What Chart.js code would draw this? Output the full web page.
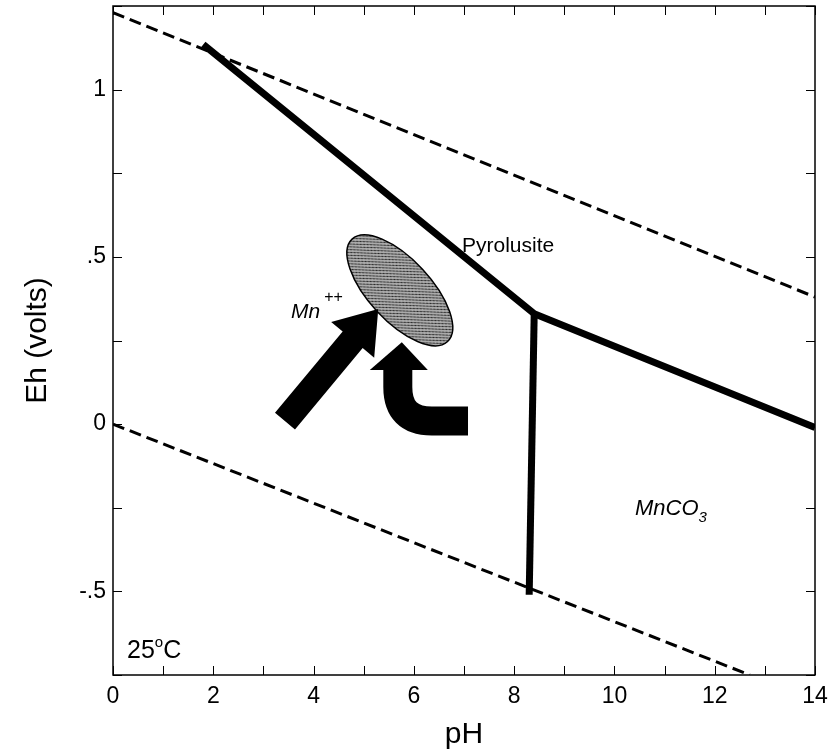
<!DOCTYPE html>
<html>
<head>
<meta charset="utf-8">
<script src="https://cdn.jsdelivr.net/npm/chart.js@4.4.1/dist/chart.umd.min.js"></script>
<style>
  html, body { margin: 0; padding: 0; background: #fff; }
  #wrap { width: 835px; height: 753px; }
</style>
</head>
<body>
<div id="wrap"><canvas id="ehPh" width="835" height="753"></canvas></div>
<script>
// --- Eh-pH diagram for manganese, 25 C ---

// water stability limits (dashed)
const upperWaterPH = [0, 14];
const upperWaterEh = [1.23, 0.38];
const lowerWaterPH = [0, 12.7];
const lowerWaterEh = [0, -0.75];

// Mn++ / pyrolusite / MnCO3 boundaries (thick solid)
const pyrolusitePH = [1.8, 8.4, 14];
const pyrolusiteEh = [1.135, 0.33, -0.01];
const carbonatePH = [8.4, 8.3];
const carbonateEh = [0.33, -0.51];

// axis ticks
const xTickLabels = [0, 2, 4, 6, 8, 10, 12, 14];
const yTickValues = [1, 0.5, 0, -0.5];
const yTickLabels = ['1', '.5', '0', '-.5'];

const FONT = "'Liberation Sans', Arial, sans-serif";

const toPoints = (xs, ys) => xs.map((x, i) => ({ x, y: ys[i] }));

function makeHatch() {
  const c = document.createElement('canvas');
  c.width = 4; c.height = 4;
  const g = c.getContext('2d');
  g.fillStyle = '#aaa';
  g.fillRect(0, 0, 4, 4);
  g.fillStyle = '#222';
  g.fillRect(0, 0, 1, 1);
  g.fillRect(2, 2, 1, 1);
  g.fillRect(1, 3, 1, 1);
  g.fillRect(3, 1, 1, 1);
  return c;
}

function drawArrow(ctx, x0, y0, x1, y1, shaftW, headW, headL) {
  const dx = x1 - x0, dy = y1 - y0;
  const len = Math.hypot(dx, dy);
  const ux = dx / len, uy = dy / len;
  const nx = -uy, ny = ux;
  const bx = x1 - ux * headL, by = y1 - uy * headL;
  ctx.beginPath();
  ctx.moveTo(x0 + nx * shaftW / 2, y0 + ny * shaftW / 2);
  ctx.lineTo(bx + nx * shaftW / 2, by + ny * shaftW / 2);
  ctx.lineTo(bx + nx * headW / 2, by + ny * headW / 2);
  ctx.lineTo(x1, y1);
  ctx.lineTo(bx - nx * headW / 2, by - ny * headW / 2);
  ctx.lineTo(bx - nx * shaftW / 2, by - ny * shaftW / 2);
  ctx.lineTo(x0 - nx * shaftW / 2, y0 - ny * shaftW / 2);
  ctx.closePath();
  ctx.fill();
}

const decorations = {
  id: 'decorations',
  afterDatasetsDraw(chart) {
    const { ctx, chartArea: a, scales: { x, y } } = chart;
    const px = v => x.getPixelForValue(v);
    const py = v => y.getPixelForValue(v);

    ctx.save();
    // frame + inward ticks on all four sides
    ctx.strokeStyle = '#000';
    ctx.lineWidth = 1.5;
    ctx.strokeRect(a.left, a.top, a.right - a.left, a.bottom - a.top);
    ctx.lineWidth = 1;
    const tl = 9;
    ctx.beginPath();
    x.ticks.forEach(t => {
      const p = Math.round(px(t.value)) + 0.5;
      ctx.moveTo(p, a.bottom); ctx.lineTo(p, a.bottom - tl);
      ctx.moveTo(p, a.top); ctx.lineTo(p, a.top + tl);
    });
    y.ticks.forEach(t => {
      const p = Math.round(py(t.value)) + 0.5;
      ctx.moveTo(a.left, p); ctx.lineTo(a.left + tl, p);
      ctx.moveTo(a.right, p); ctx.lineTo(a.right - tl, p);
    });
    ctx.stroke();

    // shaded Mn++ ellipse
    const hatch = ctx.createPattern(makeHatch(), 'repeat');
    ctx.save();
    ctx.translate(px(5.72), py(0.40));
    ctx.rotate(47 * Math.PI / 180);
    ctx.beginPath();
    ctx.ellipse(0, 0, 70, 31, 0, 0, Math.PI * 2);
    ctx.fillStyle = hatch;
    ctx.fill();
    ctx.lineWidth = 1.5;
    ctx.strokeStyle = '#000';
    ctx.stroke();
    ctx.restore();

    // straight arrow
    ctx.fillStyle = '#000';
    drawArrow(ctx, px(3.43), py(0.009), px(5.29), py(0.344), 26, 56, 40);

    // bent arrow
    const sx = px(5.68), sy = py(0.168);
    const cx = px(5.68), cy = py(0.009);
    const ex = px(7.08);
    const r = 34;
    ctx.beginPath();
    ctx.moveTo(sx, sy + 1);
    ctx.lineTo(cx, cy - r);
    ctx.quadraticCurveTo(cx, cy, cx + r, cy);
    ctx.lineTo(ex, cy);
    ctx.lineWidth = 29;
    ctx.lineCap = 'butt';
    ctx.lineJoin = 'round';
    ctx.stroke();
    ctx.beginPath();
    ctx.moveTo(sx - 28, sy + 2);
    ctx.lineTo(px(5.76), py(0.245));
    ctx.lineTo(sx + 30, sy + 2);
    ctx.closePath();
    ctx.fill();

    // labels
    ctx.fillStyle = '#000';
    ctx.textBaseline = 'alphabetic';
    ctx.textAlign = 'left';

    ctx.font = `21px ${FONT}`;
    ctx.fillText('Pyrolusite', px(6.96), py(0.515));

    ctx.font = `italic 21px ${FONT}`;
    ctx.fillText('Mn', px(3.55), py(0.317));
    const mw = ctx.measureText('Mn').width;
    ctx.font = `16px ${FONT}`;
    ctx.fillText('++', px(3.55) + mw + 4, py(0.365));

    ctx.font = `italic 22px ${FONT}`;
    ctx.fillText('MnCO', px(10.41), py(-0.272));
    const w = ctx.measureText('MnCO').width;
    ctx.font = `italic 15px ${FONT}`;
    ctx.fillText('3', px(10.41) + w, py(-0.272) + 7);

    ctx.font = `25px ${FONT}`;
    let tx = px(0.28);
    const ty = py(-0.70);
    ctx.fillText('25', tx, ty);
    tx += ctx.measureText('25').width;
    ctx.font = `15px ${FONT}`;
    ctx.fillText('o', tx, ty - 11);
    tx += ctx.measureText('o').width;
    ctx.font = `25px ${FONT}`;
    ctx.fillText('C', tx, ty);
    ctx.restore();
  }
};

const ctx = document.getElementById('ehPh').getContext('2d');

const dashed = { borderColor: '#000', borderWidth: 3, borderDash: [12, 6], pointRadius: 0, showLine: true, fill: false };
const solid = { borderColor: '#000', borderWidth: 7, pointRadius: 0, showLine: true, fill: false, borderJoinStyle: 'miter', borderCapStyle: 'butt' };

const ehChart = new Chart(ctx, {
  type: 'scatter',
  data: {
    datasets: [
      { ...dashed, label: 'O2/H2O', data: toPoints(upperWaterPH, upperWaterEh) },
      { ...dashed, label: 'H2O/H2', data: toPoints(lowerWaterPH, lowerWaterEh) },
      { ...solid, label: 'Pyrolusite', data: toPoints(pyrolusitePH, pyrolusiteEh) },
      { ...solid, label: 'MnCO3', data: toPoints(carbonatePH, carbonateEh) }
    ]
  },
  options: {
    responsive: false,
    animation: false,
    layout: { padding: { left: 0, right: 20, top: 6, bottom: 0 } },
    plugins: { legend: { display: false }, tooltip: { enabled: false } },
    scales: {
      x: {
        type: 'linear',
        min: 0,
        max: 14,
        grid: { display: false, drawTicks: false },
        border: { display: false },
        ticks: {
          stepSize: 1,
          autoSkip: false,
          maxRotation: 0,
          padding: 8,
          color: '#000',
          font: { family: FONT, size: 23 },
          callback: v => xTickLabels.includes(v) ? String(v) : ''
        },
        title: {
          display: true,
          text: 'pH',
          color: '#000',
          font: { family: FONT, size: 30 },
          padding: { top: 0, bottom: 0 }
        },
        afterFit: s => { s.height = 78; s.paddingLeft = 0; s.paddingRight = 0; }
      },
      y: {
        type: 'linear',
        min: -0.75,
        max: 1.25,
        grid: { display: false, drawTicks: false },
        border: { display: false },
        ticks: {
          stepSize: 0.25,
          autoSkip: false,
          padding: 7,
          color: '#000',
          font: { family: FONT, size: 23 },
          callback: v => {
            const i = yTickValues.findIndex(t => Math.abs(t - v) < 1e-9);
            return i >= 0 ? yTickLabels[i] : '';
          }
        },
        title: {
          display: true,
          text: 'Eh (volts)',
          color: '#000',
          font: { family: FONT, size: 30 },
          padding: { top: 20, bottom: 0 }
        },
        afterFit: s => { s.width = 113; s.paddingTop = 0; s.paddingBottom = 0; }
      }
    }
  },
  plugins: [decorations]
});
</script>
</body>
</html>
